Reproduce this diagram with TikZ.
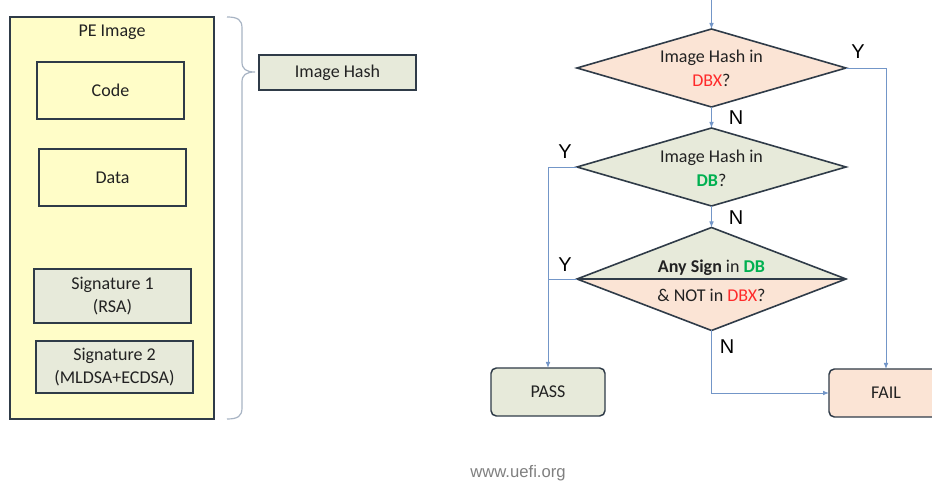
\documentclass[tikz,border=0pt]{standalone}
\usepackage{fontspec}
\setmainfont{Carlito}
\newfontfamily\arialfont{Liberation Sans}
\usetikzlibrary{shapes.geometric,arrows.meta}

\definecolor{peach}{HTML}{FBE4D5}
\definecolor{sage}{HTML}{E7EADA}
\definecolor{paleyellow}{HTML}{FFFDC8}
\definecolor{outline}{HTML}{2F3B48}
\definecolor{flow}{HTML}{7396C8}
\definecolor{bracecol}{HTML}{A8B4C4}
\definecolor{dbred}{HTML}{FF2A2A}
\definecolor{dbgreen}{HTML}{00B050}
\definecolor{txt}{HTML}{222222}

\tikzset{
  box/.style={draw=outline, line width=1.1pt, text=txt, inner sep=0pt, outer sep=0pt,
    font=\fontsize{13.5pt}{17pt}\selectfont, align=center},
  term/.style={box, rounded corners=4pt, minimum width=114*0.75pt, minimum height=48*0.75pt},
  dia/.style={draw=outline, line width=1.2pt, shape=diamond, inner sep=0pt, outer sep=0pt,
    minimum width=269*0.75pt, minimum height=78*0.75pt},
  label/.style={text=txt, font=\fontsize{13.5pt}{16pt}\selectfont, inner sep=0pt},
  conn/.style={draw=flow, line width=0.7pt},
  arr/.style={conn, -{Latex[length=4.5pt,width=3.5pt]}},
  yn/.style={font=\arialfont\fontsize{15pt}{15pt}\selectfont, text=black, inner sep=0pt}
}

\begin{document}
\begin{tikzpicture}[x=0.75pt,y=-0.75pt]
\clip (0,0) rectangle (932,484);
\fill[white] (0,0) rectangle (932,484);

% ---- PE image layout ----
\node[box, fill=paleyellow, minimum width=204*0.75pt, minimum height=402*0.75pt] (pe) at (112,218) {};
\node[label] (petitle) at (112,32) {PE Image};
\node[box, fill=paleyellow, minimum width=147*0.75pt, minimum height=57*0.75pt] (code) at (110.5,90.5) {Code};
\node[box, fill=paleyellow, minimum width=147*0.75pt, minimum height=57*0.75pt] (data) at (112.5,177.5) {Data};
\node[box, fill=sage, minimum width=157*0.75pt, minimum height=54*0.75pt] (sig1) at (112.5,296) {Signature 1\\(RSA)};
\node[box, fill=sage, minimum width=157*0.75pt, minimum height=52*0.75pt] (sig2) at (114.5,367) {Signature 2\\(MLDSA+ECDSA)};

% brace covering the image, pointing at the hash
\coordinate (bracetip) at (255,72);
\draw[bracecol, line width=0.9pt]
  (227,17) .. controls (238,17) and (242,20) .. (242,28) -- (242,62)
  .. controls (242,69) and (246,72) .. (bracetip)
  .. controls (246,72) and (242,75) .. (242,82) -- (242,408)
  .. controls (242,416) and (238,419) .. (227,419);

\node[box, fill=sage, minimum width=157*0.75pt, minimum height=35*0.75pt] (hash) at (337.5,72.5) {Image Hash};

% ---- verification flow ----
\coordinate (start) at (711.5,0);
\node[dia, fill=peach] (d1) at (711.5,68) {};
\node[label] (d1a) at (711.5,57.5) {Image Hash in};
\node[label] (d1b) at (711.5,80.5) {\textcolor{dbred}{DBX}?};

\node[dia, fill=sage] (d2) at (711.5,167) {};
\node[label] (d2a) at (711.5,157.5) {Image Hash in};
\node[label] (d2b) at (711.5,180.5) {\textcolor{dbgreen}{\textbf{DB}}?};

\node[dia, fill=peach, minimum height=103*0.75pt,
  path picture={\fill[sage] (path picture bounding box.north west) rectangle (path picture bounding box.east);}]
  (d3) at (711.5,279) {};
\draw[outline, line width=1.8pt] (d3.west) -- (d3.east);
\node[label] (d3a) at (711.5,268) {\textbf{Any Sign} in \textcolor{dbgreen}{\textbf{DB}}};
\node[label] (d3b) at (711.5,295) {\& NOT in \textcolor{dbred}{DBX}?};

\node[term, fill=sage] (pass) at (548,392) {PASS};
\node[term, fill=peach] (fail) at (886,393) {FAIL};

% connectors
\draw[arr] (start) -- (d1.north);
\draw[arr] (d1.east) -| (fail.north);
\draw[arr] (d1.south) -- (d2.north);
\draw[arr] (d2.west) -| (pass.north);
\draw[arr] (d2.south) -- (d3.north);
\draw[conn] (d3.west) -- (d3.west -| pass.north);
\draw[arr] (d3.south) |- (fail.west);

% branch labels
\node[yn] (y1) at (858,52) {Y};
\node[yn] (n1) at (736,118) {N};
\node[yn] (y2) at (565,152) {Y};
\node[yn] (n2) at (736,218) {N};
\node[yn] (y3) at (565,265) {Y};
\node[yn] (n3) at (727,347) {N};

\node[font=\arialfont\fontsize{12.5pt}{14pt}\selectfont, text=black!50, inner sep=0pt] (url) at (518,473) {www.uefi.org};
\end{tikzpicture}
\end{document}
